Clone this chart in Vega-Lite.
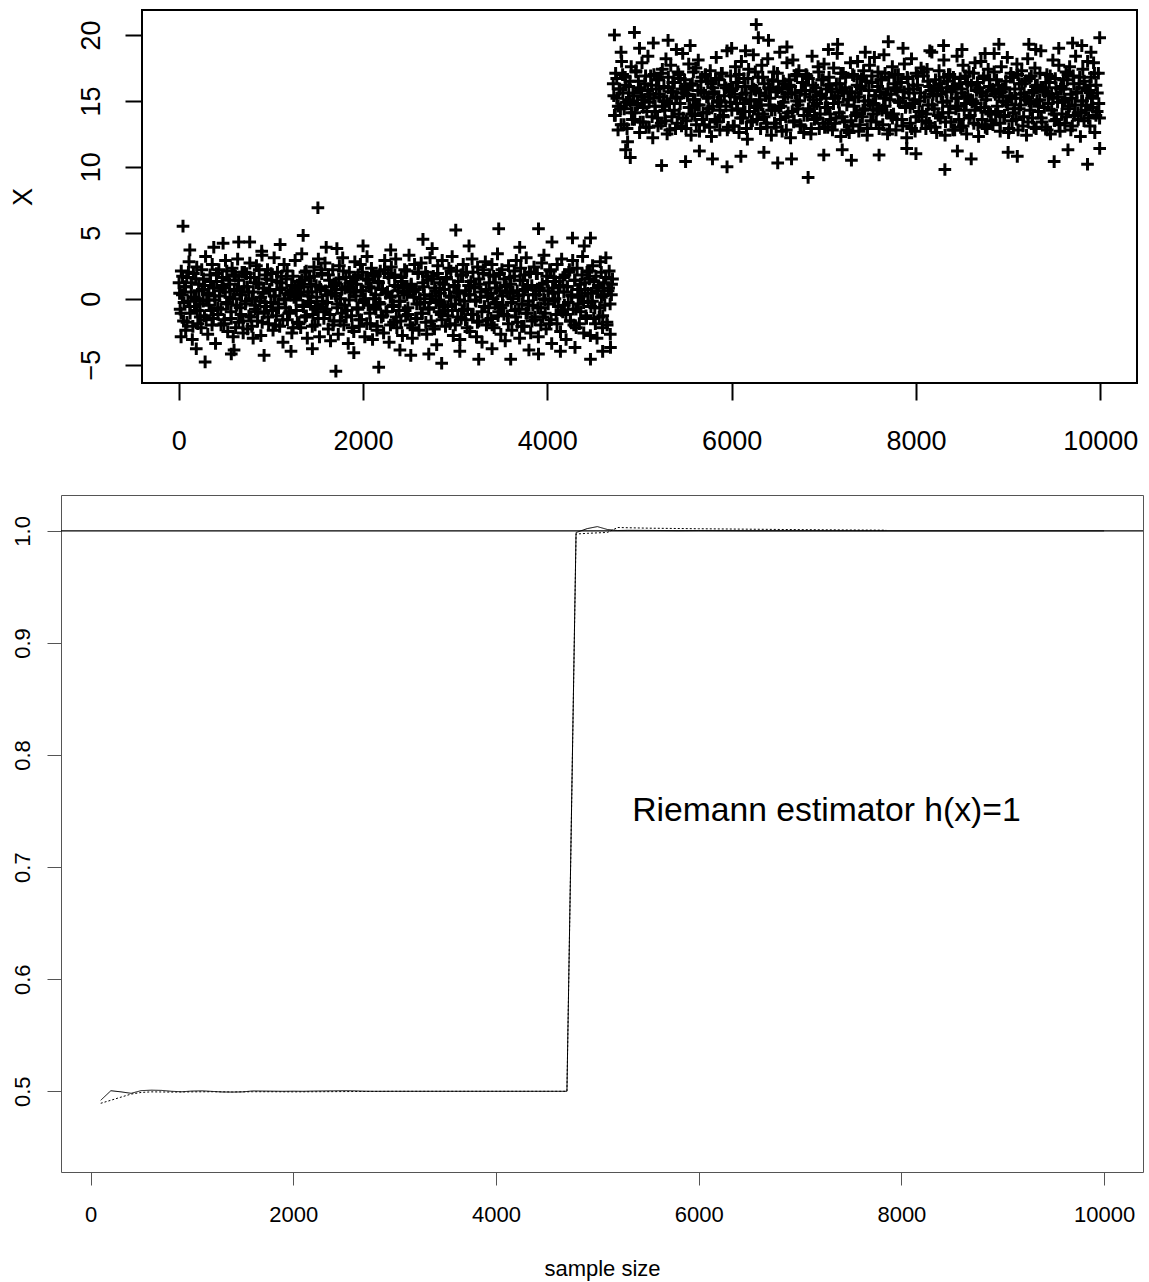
{
"$schema": "https://vega.github.io/schema/vega-lite/v6.json",
"background": "white",
"padding": {"left": 9, "top": 9, "right": 5, "bottom": 2},
"config": {"font": "Liberation Sans", "axis": {"grid": false, "labelColor": "black", "titleColor": "black", "titleFontWeight": "normal", "labelFont": "Liberation Sans", "titleFont": "Liberation Sans", "labelFlush": false, "labelOverlap": false}},
"columns": 1,
"align": "none",
"spacing": 40,
"datasets": {
"est": [
{"n":100,"v":0.4920,"s":"a"},{"n":200,"v":0.5005,"s":"a"},{"n":300,"v":0.4995,"s":"a"},{"n":400,"v":0.4982,"s":"a"},{"n":500,"v":0.5006,"s":"a"},{"n":600,"v":0.5010,"s":"a"},{"n":700,"v":0.5008,"s":"a"},{"n":800,"v":0.5000,"s":"a"},{"n":900,"v":0.4996,"s":"a"},{"n":1000,"v":0.5002,"s":"a"},{"n":1100,"v":0.5004,"s":"a"},{"n":1200,"v":0.4999,"s":"a"},{"n":1300,"v":0.4994,"s":"a"},{"n":1400,"v":0.4993,"s":"a"},{"n":1500,"v":0.4995,"s":"a"},{"n":1600,"v":0.5003,"s":"a"},{"n":1700,"v":0.5002,"s":"a"},{"n":1800,"v":0.5001,"s":"a"},{"n":1900,"v":0.5000,"s":"a"},{"n":2000,"v":0.5001,"s":"a"},{"n":2100,"v":0.5000,"s":"a"},{"n":2200,"v":0.5002,"s":"a"},{"n":2300,"v":0.5003,"s":"a"},{"n":2400,"v":0.5004,"s":"a"},{"n":2500,"v":0.5005,"s":"a"},{"n":2600,"v":0.5004,"s":"a"},{"n":2700,"v":0.5001,"s":"a"},{"n":2800,"v":0.5000,"s":"a"},{"n":3000,"v":0.5000,"s":"a"},{"n":3500,"v":0.5000,"s":"a"},{"n":4000,"v":0.5000,"s":"a"},{"n":4200,"v":0.5000,"s":"a"},{"n":4700,"v":0.5000,"s":"a"},{"n":4790,"v":0.9985,"s":"a"},{"n":4900,"v":1.0020,"s":"a"},{"n":5000,"v":1.0038,"s":"a"},{"n":5100,"v":1.0012,"s":"a"},{"n":5200,"v":1.0003,"s":"a"},{"n":5300,"v":1.0005,"s":"a"},{"n":5500,"v":1.0004,"s":"a"},{"n":5800,"v":1.0002,"s":"a"},{"n":6000,"v":1.0003,"s":"a"},{"n":6500,"v":1.0001,"s":"a"},{"n":7000,"v":1.0001,"s":"a"},{"n":8000,"v":1.0000,"s":"a"},{"n":9000,"v":1.0000,"s":"a"},{"n":10000,"v":1.0000,"s":"a"},
{"n":100,"v":0.4893,"s":"b"},{"n":200,"v":0.4920,"s":"b"},{"n":300,"v":0.4948,"s":"b"},{"n":400,"v":0.4975,"s":"b"},{"n":500,"v":0.4990,"s":"b"},{"n":600,"v":0.4995,"s":"b"},{"n":800,"v":0.4993,"s":"b"},{"n":1000,"v":0.4995,"s":"b"},{"n":1200,"v":0.4996,"s":"b"},{"n":1400,"v":0.4994,"s":"b"},{"n":1600,"v":0.4996,"s":"b"},{"n":1800,"v":0.4996,"s":"b"},{"n":2000,"v":0.4995,"s":"b"},{"n":2200,"v":0.4996,"s":"b"},{"n":2400,"v":0.4997,"s":"b"},{"n":2600,"v":0.4998,"s":"b"},{"n":2800,"v":0.4999,"s":"b"},{"n":3000,"v":0.5000,"s":"b"},{"n":3500,"v":0.5000,"s":"b"},{"n":4000,"v":0.5000,"s":"b"},{"n":4700,"v":0.5000,"s":"b"},{"n":4790,"v":0.9972,"s":"b"},{"n":4900,"v":0.9978,"s":"b"},{"n":5000,"v":0.9982,"s":"b"},{"n":5100,"v":0.9986,"s":"b"},{"n":5200,"v":1.0030,"s":"b"},{"n":5300,"v":1.0028,"s":"b"},{"n":5500,"v":1.0024,"s":"b"},{"n":6000,"v":1.0019,"s":"b"},{"n":6500,"v":1.0015,"s":"b"},{"n":7000,"v":1.0011,"s":"b"},{"n":7500,"v":1.0008,"s":"b"},{"n":7850,"v":1.0006,"s":"b"}
],
"pts": [
{"i":3,"X":1.2},{"i":15,"X":-0.8},{"i":27,"X":2.1},{"i":39,"X":0.3},{"i":51,"X":-1.7},{"i":63,"X":0.9},{"i":75,"X":-2.4},{"i":87,"X":1.6},{"i":99,"X":-0.2},{"i":111,"X":2.8},{"i":123,"X":-1.1},{"i":135,"X":0.5},{"i":147,"X":-3.1},{"i":159,"X":1.9},{"i":171,"X":-0.6},{"i":183,"X":0.0},{"i":195,"X":2.4},{"i":207,"X":-1.9},{"i":219,"X":1.1},{"i":231,"X":-0.4},
{"i":243,"X":-2.2},{"i":255,"X":0.7},{"i":267,"X":1.5},{"i":279,"X":-1.3},{"i":291,"X":3.2},{"i":303,"X":-0.1},{"i":315,"X":-2.7},{"i":327,"X":0.4},{"i":339,"X":1.8},{"i":351,"X":-0.9},{"i":363,"X":2.6},{"i":375,"X":-1.5},{"i":387,"X":0.2},{"i":399,"X":-3.4},{"i":411,"X":1.3},{"i":423,"X":-0.7},{"i":435,"X":2.2},{"i":447,"X":0.6},{"i":459,"X":-2.0},{"i":471,"X":1.0},
{"i":483,"X":0.8},{"i":495,"X":-1.6},{"i":507,"X":2.9},{"i":519,"X":-0.3},{"i":531,"X":-2.5},{"i":543,"X":1.4},{"i":555,"X":0.1},{"i":567,"X":-1.0},{"i":579,"X":2.3},{"i":591,"X":-2.9},{"i":603,"X":0.6},{"i":615,"X":1.7},{"i":627,"X":-0.5},{"i":639,"X":3.0},{"i":651,"X":-1.8},{"i":663,"X":0.3},{"i":675,"X":-1.2},{"i":687,"X":2.0},{"i":699,"X":-2.6},{"i":711,"X":0.9},
{"i":723,"X":-0.4},{"i":735,"X":1.9},{"i":747,"X":-2.3},{"i":759,"X":0.5},{"i":771,"X":2.7},{"i":783,"X":-1.4},{"i":795,"X":0.0},{"i":807,"X":-3.0},{"i":819,"X":1.6},{"i":831,"X":-0.8},{"i":843,"X":2.5},{"i":855,"X":-1.7},{"i":867,"X":1.1},{"i":879,"X":-0.2},{"i":891,"X":-2.8},{"i":903,"X":3.3},{"i":915,"X":0.4},{"i":927,"X":-1.1},{"i":939,"X":1.8},{"i":951,"X":-0.6},
{"i":963,"X":2.2},{"i":975,"X":-1.9},{"i":987,"X":0.7},{"i":999,"X":-0.3},{"i":1011,"X":1.4},{"i":1023,"X":-2.4},{"i":1035,"X":3.1},{"i":1047,"X":0.2},{"i":1059,"X":-1.3},{"i":1071,"X":2.0},{"i":1083,"X":-0.7},{"i":1095,"X":-2.1},{"i":1107,"X":1.2},{"i":1119,"X":0.8},{"i":1131,"X":-3.3},{"i":1143,"X":2.6},{"i":1155,"X":-0.1},{"i":1167,"X":1.5},{"i":1179,"X":-1.6},{"i":1191,"X":0.3},
{"i":1203,"X":-1.0},{"i":1215,"X":0.6},{"i":1227,"X":-2.6},{"i":1239,"X":1.7},{"i":1251,"X":0.1},{"i":1263,"X":2.9},{"i":1275,"X":-0.9},{"i":1287,"X":-1.8},{"i":1299,"X":0.4},{"i":1311,"X":1.3},{"i":1323,"X":-2.2},{"i":1335,"X":3.4},{"i":1347,"X":-0.5},{"i":1359,"X":0.9},{"i":1371,"X":-1.4},{"i":1383,"X":2.1},{"i":1395,"X":-3.0},{"i":1407,"X":0.2},{"i":1419,"X":1.6},{"i":1431,"X":-0.3},
{"i":1443,"X":0.5},{"i":1455,"X":-1.2},{"i":1467,"X":2.4},{"i":1479,"X":-2.0},{"i":1491,"X":1.0},{"i":1503,"X":-0.6},{"i":1515,"X":3.0},{"i":1527,"X":-2.9},{"i":1539,"X":0.7},{"i":1551,"X":1.9},{"i":1563,"X":-0.2},{"i":1575,"X":-1.5},{"i":1587,"X":2.7},{"i":1599,"X":-0.8},{"i":1611,"X":0.3},{"i":1623,"X":-2.3},{"i":1635,"X":1.4},{"i":1647,"X":-3.2},{"i":1659,"X":0.9},{"i":1671,"X":2.2},
{"i":1683,"X":-1.7},{"i":1695,"X":0.4},{"i":1707,"X":1.2},{"i":1719,"X":-0.4},{"i":1731,"X":-2.7},{"i":1743,"X":2.5},{"i":1755,"X":0.0},{"i":1767,"X":-1.1},{"i":1779,"X":3.1},{"i":1791,"X":-2.0},{"i":1803,"X":0.8},{"i":1815,"X":1.6},{"i":1827,"X":-0.9},{"i":1839,"X":-3.4},{"i":1851,"X":2.0},{"i":1863,"X":0.5},{"i":1875,"X":-1.3},{"i":1887,"X":1.1},{"i":1899,"X":-2.5},{"i":1911,"X":2.8},
{"i":1923,"X":0.2},{"i":1935,"X":-0.7},{"i":1947,"X":1.8},{"i":1959,"X":-2.1},{"i":1971,"X":2.6},{"i":1983,"X":-1.6},{"i":1995,"X":0.6},{"i":2007,"X":-0.1},{"i":2019,"X":-2.9},{"i":2031,"X":1.5},{"i":2043,"X":3.2},{"i":2055,"X":-0.5},{"i":2067,"X":0.9},{"i":2079,"X":-1.9},{"i":2091,"X":2.3},{"i":2103,"X":-3.1},{"i":2115,"X":0.0},{"i":2127,"X":1.7},{"i":2139,"X":-0.8},{"i":2151,"X":-2.4},
{"i":2163,"X":1.3},{"i":2175,"X":-0.3},{"i":2187,"X":2.1},{"i":2199,"X":-1.4},{"i":2211,"X":0.7},{"i":2223,"X":-2.6},{"i":2235,"X":2.9},{"i":2247,"X":0.4},{"i":2259,"X":-1.0},{"i":2271,"X":1.9},{"i":2283,"X":-3.3},{"i":2295,"X":0.1},{"i":2307,"X":2.4},{"i":2319,"X":-0.6},{"i":2331,"X":-1.8},{"i":2343,"X":1.0},{"i":2355,"X":3.0},{"i":2367,"X":-2.2},{"i":2379,"X":0.6},{"i":2391,"X":-0.9},
{"i":2403,"X":-0.2},{"i":2415,"X":1.6},{"i":2427,"X":-2.8},{"i":2439,"X":0.8},{"i":2451,"X":2.2},{"i":2463,"X":-1.3},{"i":2475,"X":0.3},{"i":2487,"X":-0.7},{"i":2499,"X":3.3},{"i":2511,"X":-2.0},{"i":2523,"X":1.1},{"i":2535,"X":-3.0},{"i":2547,"X":0.5},{"i":2559,"X":2.6},{"i":2571,"X":-1.5},{"i":2583,"X":-0.4},{"i":2595,"X":1.9},{"i":2607,"X":-2.4},{"i":2619,"X":0.0},{"i":2631,"X":2.7},
{"i":2643,"X":-1.1},{"i":2655,"X":0.9},{"i":2667,"X":-0.3},{"i":2679,"X":2.0},{"i":2691,"X":-2.7},{"i":2703,"X":1.4},{"i":2715,"X":-0.8},{"i":2727,"X":3.1},{"i":2739,"X":-1.7},{"i":2751,"X":0.2},{"i":2763,"X":1.7},{"i":2775,"X":-2.3},{"i":2787,"X":0.6},{"i":2799,"X":-3.5},{"i":2811,"X":2.5},{"i":2823,"X":-0.1},{"i":2835,"X":1.2},{"i":2847,"X":-1.2},{"i":2859,"X":2.9},{"i":2871,"X":-0.5},
{"i":2883,"X":0.7},{"i":2895,"X":-2.1},{"i":2907,"X":1.5},{"i":2919,"X":-0.6},{"i":2931,"X":2.3},{"i":2943,"X":-1.9},{"i":2955,"X":0.1},{"i":2967,"X":3.2},{"i":2979,"X":-2.8},{"i":2991,"X":1.0},{"i":3003,"X":-0.4},{"i":3015,"X":2.1},{"i":3027,"X":-1.4},{"i":3039,"X":0.4},{"i":3051,"X":-3.1},{"i":3063,"X":1.8},{"i":3075,"X":-0.9},{"i":3087,"X":2.6},{"i":3099,"X":-0.2},{"i":3111,"X":-1.6},
{"i":3123,"X":2.0},{"i":3135,"X":-0.8},{"i":3147,"X":0.3},{"i":3159,"X":-2.5},{"i":3171,"X":1.3},{"i":3183,"X":3.0},{"i":3195,"X":-1.2},{"i":3207,"X":0.8},{"i":3219,"X":-0.1},{"i":3231,"X":-2.9},{"i":3243,"X":2.4},{"i":3255,"X":-1.7},{"i":3267,"X":1.1},{"i":3279,"X":0.5},{"i":3291,"X":-3.3},{"i":3303,"X":1.9},{"i":3315,"X":-0.6},{"i":3327,"X":2.8},{"i":3339,"X":-2.0},{"i":3351,"X":0.2},
{"i":3363,"X":-0.7},{"i":3375,"X":1.8},{"i":3387,"X":-1.5},{"i":3399,"X":2.6},{"i":3411,"X":0.0},{"i":3423,"X":-2.2},{"i":3435,"X":1.2},{"i":3447,"X":-0.3},{"i":3459,"X":3.4},{"i":3471,"X":-1.0},{"i":3483,"X":0.6},{"i":3495,"X":-2.7},{"i":3507,"X":2.2},{"i":3519,"X":-0.5},{"i":3531,"X":1.5},{"i":3543,"X":-3.2},{"i":3555,"X":0.9},{"i":3567,"X":-1.3},{"i":3579,"X":2.5},{"i":3591,"X":0.4},
{"i":3603,"X":1.1},{"i":3615,"X":-2.4},{"i":3627,"X":0.5},{"i":3639,"X":1.7},{"i":3651,"X":-0.9},{"i":3663,"X":2.9},{"i":3675,"X":-1.8},{"i":3687,"X":0.2},{"i":3699,"X":-3.0},{"i":3711,"X":2.3},{"i":3723,"X":-0.4},{"i":3735,"X":1.4},{"i":3747,"X":-2.1},{"i":3759,"X":0.7},{"i":3771,"X":3.1},{"i":3783,"X":-1.1},{"i":3795,"X":-0.2},{"i":3807,"X":2.0},{"i":3819,"X":-2.6},{"i":3831,"X":1.0},
{"i":3843,"X":-0.5},{"i":3855,"X":2.4},{"i":3867,"X":-1.6},{"i":3879,"X":0.3},{"i":3891,"X":1.9},{"i":3903,"X":-2.9},{"i":3915,"X":0.8},{"i":3927,"X":-0.7},{"i":3939,"X":2.7},{"i":3951,"X":-1.4},{"i":3963,"X":3.3},{"i":3975,"X":-0.1},{"i":3987,"X":-2.3},{"i":3999,"X":1.3},{"i":4011,"X":0.6},{"i":4023,"X":-1.9},{"i":4035,"X":2.1},{"i":4047,"X":-3.4},{"i":4059,"X":0.4},{"i":4071,"X":1.6},
{"i":4083,"X":0.0},{"i":4095,"X":-1.2},{"i":4107,"X":2.6},{"i":4119,"X":-0.6},{"i":4131,"X":1.0},{"i":4143,"X":-2.5},{"i":4155,"X":3.0},{"i":4167,"X":-1.0},{"i":4179,"X":0.5},{"i":4191,"X":1.8},{"i":4203,"X":-3.1},{"i":4215,"X":0.9},{"i":4227,"X":-0.3},{"i":4239,"X":2.2},{"i":4251,"X":-1.7},{"i":4263,"X":0.3},{"i":4275,"X":2.9},{"i":4287,"X":-2.0},{"i":4299,"X":1.4},{"i":4311,"X":-0.8},
{"i":4323,"X":2.3},{"i":4335,"X":-0.4},{"i":4347,"X":-1.9},{"i":4359,"X":1.1},{"i":4371,"X":0.2},{"i":4383,"X":3.2},{"i":4395,"X":-2.6},{"i":4407,"X":0.7},{"i":4419,"X":-1.3},{"i":4431,"X":2.0},{"i":4443,"X":-0.2},{"i":4455,"X":1.5},{"i":4467,"X":-2.8},{"i":4479,"X":0.4},{"i":4491,"X":2.5},{"i":4503,"X":-1.5},{"i":4515,"X":-0.7},{"i":4527,"X":1.7},{"i":4539,"X":-3.0},{"i":4551,"X":0.8},
{"i":4563,"X":-1.4},{"i":4575,"X":2.8},{"i":4587,"X":0.1},{"i":4599,"X":-2.2},{"i":4611,"X":1.2},{"i":4623,"X":-0.5},{"i":4635,"X":3.1},{"i":4647,"X":-1.8},{"i":4659,"X":0.6},{"i":4671,"X":2.1},{"i":4683,"X":-2.7},{"i":4695,"X":0.3},{"i":4707,"X":1.5},
{"i":9,"X":0.4},{"i":25,"X":-1.1},{"i":41,"X":1.7},{"i":57,"X":-0.3},{"i":73,"X":0.9},{"i":89,"X":-1.8},{"i":105,"X":2.0},{"i":121,"X":-0.6},{"i":137,"X":1.2},{"i":153,"X":-2.1},{"i":169,"X":0.1},{"i":185,"X":1.5},{"i":201,"X":-0.9},{"i":217,"X":0.6},{"i":233,"X":-1.4},{"i":249,"X":2.2},{"i":265,"X":-0.2},{"i":281,"X":1.0},{"i":297,"X":-1.6},{"i":313,"X":0.3},
{"i":329,"X":-0.5},{"i":345,"X":1.3},{"i":361,"X":-2.0},{"i":377,"X":0.8},{"i":393,"X":-0.1},{"i":409,"X":1.9},{"i":425,"X":-1.2},{"i":441,"X":0.2},{"i":457,"X":-0.8},{"i":473,"X":1.6},{"i":489,"X":-1.9},{"i":505,"X":0.5},{"i":521,"X":2.1},{"i":537,"X":-0.4},{"i":553,"X":1.1},{"i":569,"X":-1.5},{"i":585,"X":0.0},{"i":601,"X":1.8},{"i":617,"X":-2.2},{"i":633,"X":0.7},
{"i":649,"X":1.4},{"i":665,"X":-0.7},{"i":681,"X":0.3},{"i":697,"X":-1.7},{"i":713,"X":2.0},{"i":729,"X":-0.2},{"i":745,"X":0.9},{"i":761,"X":-1.3},{"i":777,"X":1.6},{"i":793,"X":-2.1},{"i":809,"X":0.5},{"i":825,"X":-0.5},{"i":841,"X":1.2},{"i":857,"X":-1.0},{"i":873,"X":2.2},{"i":889,"X":0.1},{"i":905,"X":-1.8},{"i":921,"X":0.8},{"i":937,"X":-0.3},{"i":953,"X":1.5},
{"i":969,"X":-1.4},{"i":985,"X":0.6},{"i":1001,"X":1.9},{"i":1017,"X":-0.9},{"i":1033,"X":0.2},{"i":1049,"X":-2.0},{"i":1065,"X":1.3},{"i":1081,"X":-0.4},{"i":1097,"X":0.7},{"i":1113,"X":1.7},{"i":1129,"X":-1.6},{"i":1145,"X":0.0},{"i":1161,"X":-0.7},{"i":1177,"X":2.1},{"i":1193,"X":-1.1},{"i":1209,"X":0.4},{"i":1225,"X":1.0},{"i":1241,"X":-2.2},{"i":1257,"X":0.9},{"i":1273,"X":-0.1},
{"i":1289,"X":0.8},{"i":1305,"X":-1.9},{"i":1321,"X":0.3},{"i":1337,"X":1.4},{"i":1353,"X":-0.6},{"i":1369,"X":2.0},{"i":1385,"X":-1.3},{"i":1401,"X":0.5},{"i":1417,"X":-0.2},{"i":1433,"X":1.1},{"i":1449,"X":-2.1},{"i":1465,"X":1.7},{"i":1481,"X":-0.8},{"i":1497,"X":0.1},{"i":1513,"X":-1.5},{"i":1529,"X":0.9},{"i":1545,"X":2.2},{"i":1561,"X":-0.4},{"i":1577,"X":-1.0},{"i":1593,"X":0.6},
{"i":1609,"X":-0.3},{"i":1625,"X":1.8},{"i":1641,"X":-1.2},{"i":1657,"X":0.4},{"i":1673,"X":-2.0},{"i":1689,"X":1.0},{"i":1705,"X":0.2},{"i":1721,"X":-0.7},{"i":1737,"X":1.5},{"i":1753,"X":-1.7},{"i":1769,"X":0.7},{"i":1785,"X":2.1},{"i":1801,"X":-0.5},{"i":1817,"X":-1.4},{"i":1833,"X":0.9},{"i":1849,"X":-0.1},{"i":1865,"X":1.3},{"i":1881,"X":-2.2},{"i":1897,"X":0.5},{"i":1913,"X":1.6},
{"i":1929,"X":1.1},{"i":1945,"X":-0.8},{"i":1961,"X":-1.6},{"i":1977,"X":0.6},{"i":1993,"X":2.0},{"i":2009,"X":-0.3},{"i":2025,"X":0.0},{"i":2041,"X":-1.9},{"i":2057,"X":1.4},{"i":2073,"X":-1.1},{"i":2089,"X":0.8},{"i":2105,"X":1.9},{"i":2121,"X":-0.6},{"i":2137,"X":0.3},{"i":2153,"X":-2.1},{"i":2169,"X":1.2},{"i":2185,"X":-0.4},{"i":2201,"X":0.7},{"i":2217,"X":-1.3},{"i":2233,"X":2.2},
{"i":2249,"X":-1.0},{"i":2265,"X":0.5},{"i":2281,"X":1.6},{"i":2297,"X":-2.0},{"i":2313,"X":0.2},{"i":2329,"X":-0.5},{"i":2345,"X":1.8},{"i":2361,"X":-1.4},{"i":2377,"X":0.9},{"i":2393,"X":-0.2},{"i":2409,"X":-1.7},{"i":2425,"X":1.3},{"i":2441,"X":0.4},{"i":2457,"X":-0.9},{"i":2473,"X":2.1},{"i":2489,"X":-1.2},{"i":2505,"X":0.6},{"i":2521,"X":1.0},{"i":2537,"X":-2.2},{"i":2553,"X":0.1},
{"i":2569,"X":0.7},{"i":2585,"X":-1.5},{"i":2601,"X":2.0},{"i":2617,"X":-0.4},{"i":2633,"X":-1.1},{"i":2649,"X":1.2},{"i":2665,"X":0.3},{"i":2681,"X":-1.8},{"i":2697,"X":1.7},{"i":2713,"X":-0.7},{"i":2729,"X":0.0},{"i":2745,"X":1.5},{"i":2761,"X":-2.1},{"i":2777,"X":0.8},{"i":2793,"X":-0.3},{"i":2809,"X":1.9},{"i":2825,"X":-1.0},{"i":2841,"X":0.4},{"i":2857,"X":-1.6},{"i":2873,"X":1.1},
{"i":2889,"X":-0.6},{"i":2905,"X":1.6},{"i":2921,"X":-1.3},{"i":2937,"X":0.2},{"i":2953,"X":2.1},{"i":2969,"X":-0.9},{"i":2985,"X":0.9},{"i":3001,"X":-2.0},{"i":3017,"X":0.5},{"i":3033,"X":1.3},{"i":3049,"X":-0.1},{"i":3065,"X":-1.5},{"i":3081,"X":1.8},{"i":3097,"X":-0.8},{"i":3113,"X":0.6},{"i":3129,"X":-2.2},{"i":3145,"X":1.0},{"i":3161,"X":0.3},{"i":3177,"X":-1.2},{"i":3193,"X":2.0},
{"i":3209,"X":0.9},{"i":3225,"X":-0.2},{"i":3241,"X":-1.8},{"i":3257,"X":1.5},{"i":3273,"X":0.1},{"i":3289,"X":-1.0},{"i":3305,"X":2.2},{"i":3321,"X":-0.6},{"i":3337,"X":0.7},{"i":3353,"X":-1.6},{"i":3369,"X":1.2},{"i":3385,"X":0.4},{"i":3401,"X":-2.0},{"i":3417,"X":1.7},{"i":3433,"X":-0.4},{"i":3449,"X":0.8},{"i":3465,"X":-1.3},{"i":3481,"X":1.9},{"i":3497,"X":-0.7},{"i":3513,"X":0.2},
{"i":3529,"X":-1.2},{"i":3545,"X":1.0},{"i":3561,"X":0.5},{"i":3577,"X":-1.9},{"i":3593,"X":1.6},{"i":3609,"X":-0.3},{"i":3625,"X":0.0},{"i":3641,"X":2.1},{"i":3657,"X":-1.4},{"i":3673,"X":0.6},{"i":3689,"X":-0.8},{"i":3705,"X":1.4},{"i":3721,"X":-2.1},{"i":3737,"X":0.3},{"i":3753,"X":1.8},{"i":3769,"X":-1.1},{"i":3785,"X":0.9},{"i":3801,"X":-0.5},{"i":3817,"X":2.0},{"i":3833,"X":-1.7},
{"i":3849,"X":0.3},{"i":3865,"X":-1.4},{"i":3881,"X":1.9},{"i":3897,"X":-0.7},{"i":3913,"X":0.6},{"i":3929,"X":-2.0},{"i":3945,"X":1.1},{"i":3961,"X":0.0},{"i":3977,"X":-1.1},{"i":3993,"X":1.7},{"i":4009,"X":-0.4},{"i":4025,"X":2.2},{"i":4041,"X":-1.6},{"i":4057,"X":0.8},{"i":4073,"X":-0.2},{"i":4089,"X":1.3},{"i":4105,"X":-1.9},{"i":4121,"X":0.5},{"i":4137,"X":1.0},{"i":4153,"X":-0.9},
{"i":4169,"X":1.6},{"i":4185,"X":-0.5},{"i":4201,"X":-1.2},{"i":4217,"X":0.9},{"i":4233,"X":2.0},{"i":4249,"X":-1.7},{"i":4265,"X":0.2},{"i":4281,"X":-0.8},{"i":4297,"X":1.4},{"i":4313,"X":-2.2},{"i":4329,"X":0.7},{"i":4345,"X":0.1},{"i":4361,"X":-1.0},{"i":4377,"X":1.8},{"i":4393,"X":-0.3},{"i":4409,"X":1.2},{"i":4425,"X":-1.5},{"i":4441,"X":0.4},{"i":4457,"X":2.1},{"i":4473,"X":-0.6},
{"i":4489,"X":-0.2},{"i":4505,"X":1.3},{"i":4521,"X":-1.9},{"i":4537,"X":0.6},{"i":4553,"X":1.0},{"i":4569,"X":-0.7},{"i":4585,"X":2.0},{"i":4601,"X":-1.3},{"i":4617,"X":0.3},{"i":4633,"X":1.6},{"i":4649,"X":-2.0},{"i":4665,"X":0.8},{"i":4681,"X":-0.4},{"i":4697,"X":1.1},
{"i":46,"X":5.5},{"i":481,"X":4.2},{"i":650,"X":4.3},{"i":770,"X":4.3},{"i":1350,"X":4.8},{"i":1510,"X":6.9},{"i":1716,"X":3.8},{"i":3006,"X":5.2},{"i":3472,"X":5.3},{"i":3904,"X":5.3},{"i":4273,"X":4.6},{"i":4468,"X":4.6},{"i":286,"X":-4.8},{"i":1705,"X":-5.5},{"i":2170,"X":-5.2},{"i":2853,"X":-4.9},{"i":3255,"X":-4.6},{"i":3602,"X":-4.6},{"i":4468,"X":-4.6},{"i":4685,"X":-3.7},{"i":190,"X":-3.8},{"i":570,"X":-4.2},{"i":926,"X":-4.3},{"i":1218,"X":-4.0},{"i":2518,"X":-4.3},{"i":2713,"X":-4.2},{"i":3904,"X":-4.2},{"i":4142,"X":-4.0},{"i":25,"X":-2.9},
{"i":120,"X":3.7},{"i":380,"X":3.9},{"i":900,"X":3.6},{"i":1100,"X":4.1},{"i":1600,"X":3.9},{"i":2000,"X":4.0},{"i":2300,"X":3.7},{"i":2650,"X":4.5},{"i":2750,"X":3.8},{"i":3150,"X":4.0},{"i":3700,"X":3.9},{"i":4050,"X":4.3},{"i":4400,"X":4.0},{"i":600,"X":-3.9},{"i":1450,"X":-3.8},{"i":1900,"X":-4.1},{"i":2400,"X":-3.9},{"i":3050,"X":-4.0},{"i":3400,"X":-3.8},{"i":3800,"X":-3.9},{"i":4300,"X":-3.7},{"i":4600,"X":-4.0},
{"i":4715,"X":16.3},{"i":4728,"X":13.9},{"i":4741,"X":17.1},{"i":4754,"X":15.2},{"i":4767,"X":12.8},{"i":4780,"X":15.9},{"i":4793,"X":14.4},{"i":4806,"X":18.0},{"i":4819,"X":15.6},{"i":4832,"X":13.2},{"i":4845,"X":16.8},{"i":4858,"X":14.9},{"i":4871,"X":11.9},{"i":4884,"X":16.1},{"i":4897,"X":15.0},{"i":4910,"X":17.6},{"i":4923,"X":13.6},{"i":4936,"X":15.4},{"i":4949,"X":14.1},{"i":4962,"X":17.3},
{"i":4975,"X":14.7},{"i":4988,"X":16.5},{"i":5001,"X":12.6},{"i":5014,"X":15.8},{"i":5027,"X":17.9},{"i":5040,"X":13.4},{"i":5053,"X":15.1},{"i":5066,"X":16.9},{"i":5079,"X":14.2},{"i":5092,"X":18.4},{"i":5105,"X":13.0},{"i":5118,"X":15.5},{"i":5131,"X":16.2},{"i":5144,"X":12.2},{"i":5157,"X":17.0},{"i":5170,"X":14.6},{"i":5183,"X":15.9},{"i":5196,"X":13.7},{"i":5209,"X":16.6},{"i":5222,"X":15.3},
{"i":5235,"X":13.3},{"i":5248,"X":17.4},{"i":5261,"X":15.0},{"i":5274,"X":14.3},{"i":5287,"X":18.2},{"i":5300,"X":12.5},{"i":5313,"X":16.0},{"i":5326,"X":14.8},{"i":5339,"X":17.7},{"i":5352,"X":13.8},{"i":5365,"X":15.7},{"i":5378,"X":16.4},{"i":5391,"X":12.9},{"i":5404,"X":15.2},{"i":5417,"X":17.2},{"i":5430,"X":14.0},{"i":5443,"X":16.7},{"i":5456,"X":13.1},{"i":5469,"X":18.6},{"i":5482,"X":15.6},
{"i":5495,"X":16.1},{"i":5508,"X":13.5},{"i":5521,"X":15.4},{"i":5534,"X":17.8},{"i":5547,"X":14.5},{"i":5560,"X":12.4},{"i":5573,"X":16.3},{"i":5586,"X":15.1},{"i":5599,"X":13.9},{"i":5612,"X":17.5},{"i":5625,"X":14.7},{"i":5638,"X":18.1},{"i":5651,"X":12.7},{"i":5664,"X":15.8},{"i":5677,"X":16.8},{"i":5690,"X":14.1},{"i":5703,"X":13.2},{"i":5716,"X":17.0},{"i":5729,"X":15.3},{"i":5742,"X":16.5},
{"i":5755,"X":14.4},{"i":5768,"X":17.3},{"i":5781,"X":12.3},{"i":5794,"X":16.0},{"i":5807,"X":15.5},{"i":5820,"X":13.6},{"i":5833,"X":18.3},{"i":5846,"X":14.9},{"i":5859,"X":16.6},{"i":5872,"X":12.8},{"i":5885,"X":15.0},{"i":5898,"X":17.1},{"i":5911,"X":13.8},{"i":5924,"X":16.2},{"i":5937,"X":14.6},{"i":5950,"X":18.8},{"i":5963,"X":13.0},{"i":5976,"X":15.7},{"i":5989,"X":16.9},{"i":6002,"X":14.3},
{"i":6015,"X":15.9},{"i":6028,"X":13.1},{"i":6041,"X":17.6},{"i":6054,"X":14.8},{"i":6067,"X":16.4},{"i":6080,"X":12.6},{"i":6093,"X":15.2},{"i":6106,"X":18.0},{"i":6119,"X":13.7},{"i":6132,"X":16.7},{"i":6145,"X":14.2},{"i":6158,"X":15.6},{"i":6171,"X":12.1},{"i":6184,"X":17.4},{"i":6197,"X":15.0},{"i":6210,"X":13.4},{"i":6223,"X":16.1},{"i":6236,"X":18.5},{"i":6249,"X":14.5},{"i":6262,"X":15.8},
{"i":6275,"X":13.6},{"i":6288,"X":16.8},{"i":6301,"X":15.1},{"i":6314,"X":12.9},{"i":6327,"X":17.7},{"i":6340,"X":14.0},{"i":6353,"X":16.3},{"i":6366,"X":15.4},{"i":6379,"X":13.3},{"i":6392,"X":18.2},{"i":6405,"X":14.7},{"i":6418,"X":15.9},{"i":6431,"X":12.4},{"i":6444,"X":16.6},{"i":6457,"X":17.2},{"i":6470,"X":14.3},{"i":6483,"X":13.0},{"i":6496,"X":15.7},{"i":6509,"X":16.0},{"i":6522,"X":18.7},
{"i":6535,"X":14.6},{"i":6548,"X":12.7},{"i":6561,"X":16.5},{"i":6574,"X":15.3},{"i":6587,"X":13.8},{"i":6600,"X":17.9},{"i":6613,"X":14.1},{"i":6626,"X":16.2},{"i":6639,"X":12.2},{"i":6652,"X":15.6},{"i":6665,"X":18.1},{"i":6678,"X":13.5},{"i":6691,"X":16.9},{"i":6704,"X":15.0},{"i":6717,"X":14.4},{"i":6730,"X":17.3},{"i":6743,"X":13.2},{"i":6756,"X":15.8},{"i":6769,"X":16.4},{"i":6782,"X":12.6},
{"i":6795,"X":15.5},{"i":6808,"X":17.0},{"i":6821,"X":13.9},{"i":6834,"X":16.7},{"i":6847,"X":14.2},{"i":6860,"X":12.5},{"i":6873,"X":18.4},{"i":6886,"X":15.1},{"i":6899,"X":13.6},{"i":6912,"X":16.0},{"i":6925,"X":14.8},{"i":6938,"X":17.6},{"i":6951,"X":12.9},{"i":6964,"X":15.4},{"i":6977,"X":16.6},{"i":6990,"X":13.3},{"i":7003,"X":17.8},{"i":7016,"X":14.5},{"i":7029,"X":15.9},{"i":7042,"X":13.0},
{"i":7055,"X":16.2},{"i":7068,"X":14.0},{"i":7081,"X":15.7},{"i":7094,"X":12.8},{"i":7107,"X":17.5},{"i":7120,"X":15.2},{"i":7133,"X":13.7},{"i":7146,"X":18.6},{"i":7159,"X":14.9},{"i":7172,"X":16.3},{"i":7185,"X":12.3},{"i":7198,"X":15.8},{"i":7211,"X":17.1},{"i":7224,"X":13.4},{"i":7237,"X":16.8},{"i":7250,"X":14.7},{"i":7263,"X":15.1},{"i":7276,"X":12.6},{"i":7289,"X":17.9},{"i":7302,"X":15.6},
{"i":7315,"X":13.1},{"i":7328,"X":16.9},{"i":7341,"X":15.3},{"i":7354,"X":14.1},{"i":7367,"X":18.0},{"i":7380,"X":12.7},{"i":7393,"X":16.1},{"i":7406,"X":15.9},{"i":7419,"X":13.8},{"i":7432,"X":17.3},{"i":7445,"X":14.4},{"i":7458,"X":16.5},{"i":7471,"X":12.4},{"i":7484,"X":15.0},{"i":7497,"X":17.7},{"i":7510,"X":13.5},{"i":7523,"X":16.4},{"i":7536,"X":14.8},{"i":7549,"X":18.3},{"i":7562,"X":15.4},
{"i":7575,"X":14.3},{"i":7588,"X":17.2},{"i":7601,"X":12.9},{"i":7614,"X":15.7},{"i":7627,"X":16.6},{"i":7640,"X":13.2},{"i":7653,"X":18.5},{"i":7666,"X":14.6},{"i":7679,"X":15.5},{"i":7692,"X":12.5},{"i":7705,"X":16.8},{"i":7718,"X":15.1},{"i":7731,"X":13.9},{"i":7744,"X":17.6},{"i":7757,"X":14.0},{"i":7770,"X":16.0},{"i":7783,"X":12.8},{"i":7796,"X":15.8},{"i":7809,"X":17.0},{"i":7822,"X":14.9},
{"i":7835,"X":16.4},{"i":7848,"X":13.6},{"i":7861,"X":15.2},{"i":7874,"X":17.8},{"i":7887,"X":14.5},{"i":7900,"X":12.2},{"i":7913,"X":16.7},{"i":7926,"X":15.6},{"i":7939,"X":13.3},{"i":7952,"X":18.2},{"i":7965,"X":14.8},{"i":7978,"X":15.9},{"i":7991,"X":12.7},{"i":8004,"X":17.1},{"i":8017,"X":16.2},{"i":8030,"X":13.8},{"i":8043,"X":15.0},{"i":8056,"X":17.5},{"i":8069,"X":14.2},{"i":8082,"X":16.9},
{"i":8095,"X":15.3},{"i":8108,"X":12.9},{"i":8121,"X":17.4},{"i":8134,"X":14.7},{"i":8147,"X":16.1},{"i":8160,"X":13.1},{"i":8173,"X":18.7},{"i":8186,"X":15.5},{"i":8199,"X":14.4},{"i":8212,"X":16.6},{"i":8225,"X":12.6},{"i":8238,"X":15.8},{"i":8251,"X":17.3},{"i":8264,"X":13.7},{"i":8277,"X":16.0},{"i":8290,"X":14.9},{"i":8303,"X":18.1},{"i":8316,"X":12.4},{"i":8329,"X":15.7},{"i":8342,"X":16.5},
{"i":8355,"X":14.1},{"i":8368,"X":17.0},{"i":8381,"X":13.4},{"i":8394,"X":15.9},{"i":8407,"X":16.8},{"i":8420,"X":12.8},{"i":8433,"X":15.2},{"i":8446,"X":18.4},{"i":8459,"X":14.6},{"i":8472,"X":16.3},{"i":8485,"X":13.0},{"i":8498,"X":15.6},{"i":8511,"X":17.7},{"i":8524,"X":14.3},{"i":8537,"X":16.9},{"i":8550,"X":12.5},{"i":8563,"X":15.4},{"i":8576,"X":17.2},{"i":8589,"X":13.9},{"i":8602,"X":16.2},
{"i":8615,"X":15.0},{"i":8628,"X":13.3},{"i":8641,"X":17.9},{"i":8654,"X":14.8},{"i":8667,"X":16.4},{"i":8680,"X":12.3},{"i":8693,"X":15.7},{"i":8706,"X":18.0},{"i":8719,"X":13.6},{"i":8732,"X":16.7},{"i":8745,"X":14.5},{"i":8758,"X":15.1},{"i":8771,"X":12.9},{"i":8784,"X":17.4},{"i":8797,"X":16.1},{"i":8810,"X":14.0},{"i":8823,"X":15.8},{"i":8836,"X":13.2},{"i":8849,"X":18.6},{"i":8862,"X":15.5},
{"i":8875,"X":16.6},{"i":8888,"X":14.2},{"i":8901,"X":15.3},{"i":8914,"X":12.7},{"i":8927,"X":17.6},{"i":8940,"X":15.9},{"i":8953,"X":13.8},{"i":8966,"X":16.0},{"i":8979,"X":14.9},{"i":8992,"X":18.3},{"i":9005,"X":12.6},{"i":9018,"X":15.4},{"i":9031,"X":17.1},{"i":9044,"X":13.5},{"i":9057,"X":16.8},{"i":9070,"X":14.4},{"i":9083,"X":15.2},{"i":9096,"X":17.8},{"i":9109,"X":12.8},{"i":9122,"X":16.3},
{"i":9135,"X":14.7},{"i":9148,"X":17.3},{"i":9161,"X":13.1},{"i":9174,"X":15.6},{"i":9187,"X":16.5},{"i":9200,"X":12.4},{"i":9213,"X":18.2},{"i":9226,"X":15.0},{"i":9239,"X":14.3},{"i":9252,"X":16.9},{"i":9265,"X":13.7},{"i":9278,"X":15.8},{"i":9291,"X":17.5},{"i":9304,"X":12.9},{"i":9317,"X":16.2},{"i":9330,"X":14.6},{"i":9343,"X":15.1},{"i":9356,"X":18.8},{"i":9369,"X":13.4},{"i":9382,"X":16.0},
{"i":9395,"X":15.7},{"i":9408,"X":13.0},{"i":9421,"X":17.0},{"i":9434,"X":14.8},{"i":9447,"X":16.4},{"i":9460,"X":12.5},{"i":9473,"X":15.5},{"i":9486,"X":18.1},{"i":9499,"X":14.0},{"i":9512,"X":16.7},{"i":9525,"X":13.6},{"i":9538,"X":15.3},{"i":9551,"X":17.7},{"i":9564,"X":12.7},{"i":9577,"X":16.1},{"i":9590,"X":14.9},{"i":9603,"X":15.9},{"i":9616,"X":13.3},{"i":9629,"X":17.2},{"i":9642,"X":16.6},
{"i":9655,"X":14.4},{"i":9668,"X":17.6},{"i":9681,"X":12.8},{"i":9694,"X":15.2},{"i":9707,"X":16.9},{"i":9720,"X":13.9},{"i":9733,"X":18.4},{"i":9746,"X":15.6},{"i":9759,"X":14.1},{"i":9772,"X":16.3},{"i":9785,"X":12.3},{"i":9798,"X":15.0},{"i":9811,"X":17.4},{"i":9824,"X":13.5},{"i":9837,"X":16.0},{"i":9850,"X":14.7},{"i":9863,"X":18.0},{"i":9876,"X":15.8},{"i":9889,"X":13.1},{"i":9902,"X":16.8},
{"i":9915,"X":15.4},{"i":9928,"X":17.9},{"i":9941,"X":12.6},{"i":9954,"X":16.2},{"i":9967,"X":14.2},{"i":9980,"X":17.1},{"i":9993,"X":13.7},
{"i":4721,"X":15.4},{"i":4737,"X":13.9},{"i":4753,"X":16.7},{"i":4769,"X":14.6},{"i":4785,"X":15.9},{"i":4801,"X":13.2},{"i":4817,"X":17.0},{"i":4833,"X":14.4},{"i":4849,"X":16.2},{"i":4865,"X":12.9},{"i":4881,"X":15.1},{"i":4897,"X":16.5},{"i":4913,"X":14.1},{"i":4929,"X":15.6},{"i":4945,"X":13.6},{"i":4961,"X":17.2},{"i":4977,"X":14.8},{"i":4993,"X":16.0},{"i":5009,"X":13.4},{"i":5025,"X":15.3},
{"i":5041,"X":14.5},{"i":5057,"X":16.3},{"i":5073,"X":13.0},{"i":5089,"X":15.8},{"i":5105,"X":14.9},{"i":5121,"X":16.9},{"i":5137,"X":13.8},{"i":5153,"X":15.2},{"i":5169,"X":14.2},{"i":5185,"X":16.6},{"i":5201,"X":13.1},{"i":5217,"X":15.5},{"i":5233,"X":17.1},{"i":5249,"X":14.6},{"i":5265,"X":16.1},{"i":5281,"X":13.5},{"i":5297,"X":15.0},{"i":5313,"X":16.8},{"i":5329,"X":12.8},{"i":5345,"X":15.7},
{"i":5361,"X":16.4},{"i":5377,"X":14.3},{"i":5393,"X":15.3},{"i":5409,"X":13.3},{"i":5425,"X":17.0},{"i":5441,"X":14.8},{"i":5457,"X":15.9},{"i":5473,"X":13.7},{"i":5489,"X":16.6},{"i":5505,"X":12.9},{"i":5521,"X":15.5},{"i":5537,"X":14.5},{"i":5553,"X":16.2},{"i":5569,"X":14.0},{"i":5585,"X":17.2},{"i":5601,"X":15.1},{"i":5617,"X":13.2},{"i":5633,"X":15.8},{"i":5649,"X":14.7},{"i":5665,"X":16.5},
{"i":5681,"X":13.6},{"i":5697,"X":15.6},{"i":5713,"X":16.9},{"i":5729,"X":14.1},{"i":5745,"X":15.2},{"i":5761,"X":13.0},{"i":5777,"X":16.3},{"i":5793,"X":14.6},{"i":5809,"X":15.7},{"i":5825,"X":16.7},{"i":5841,"X":13.4},{"i":5857,"X":15.0},{"i":5873,"X":14.3},{"i":5889,"X":17.1},{"i":5905,"X":13.9},{"i":5921,"X":15.4},{"i":5937,"X":16.0},{"i":5953,"X":12.8},{"i":5969,"X":15.9},{"i":5985,"X":14.9},
{"i":6001,"X":15.8},{"i":6017,"X":13.1},{"i":6033,"X":15.3},{"i":6049,"X":16.4},{"i":6065,"X":14.4},{"i":6081,"X":17.0},{"i":6097,"X":13.7},{"i":6113,"X":15.5},{"i":6129,"X":14.8},{"i":6145,"X":16.1},{"i":6161,"X":12.9},{"i":6177,"X":16.7},{"i":6193,"X":14.2},{"i":6209,"X":15.1},{"i":6225,"X":13.5},{"i":6241,"X":15.9},{"i":6257,"X":17.2},{"i":6273,"X":14.6},{"i":6289,"X":14.0},{"i":6305,"X":15.6},
{"i":6321,"X":14.7},{"i":6337,"X":16.8},{"i":6353,"X":13.8},{"i":6369,"X":15.4},{"i":6385,"X":13.0},{"i":6401,"X":16.0},{"i":6417,"X":15.2},{"i":6433,"X":14.3},{"i":6449,"X":16.5},{"i":6465,"X":13.3},{"i":6481,"X":15.7},{"i":6497,"X":17.1},{"i":6513,"X":14.5},{"i":6529,"X":13.6},{"i":6545,"X":15.9},{"i":6561,"X":14.9},{"i":6577,"X":16.3},{"i":6593,"X":12.8},{"i":6609,"X":15.5},{"i":6625,"X":16.6},
{"i":6641,"X":16.1},{"i":6657,"X":14.2},{"i":6673,"X":13.4},{"i":6689,"X":15.6},{"i":6705,"X":17.0},{"i":6721,"X":14.7},{"i":6737,"X":15.0},{"i":6753,"X":13.1},{"i":6769,"X":16.4},{"i":6785,"X":13.9},{"i":6801,"X":15.8},{"i":6817,"X":16.9},{"i":6833,"X":14.4},{"i":6849,"X":15.3},{"i":6865,"X":12.9},{"i":6881,"X":16.2},{"i":6897,"X":14.6},{"i":6913,"X":15.7},{"i":6929,"X":13.7},{"i":6945,"X":17.2},
{"i":6961,"X":14.0},{"i":6977,"X":15.5},{"i":6993,"X":16.6},{"i":7009,"X":13.0},{"i":7025,"X":15.2},{"i":7041,"X":14.5},{"i":7057,"X":16.8},{"i":7073,"X":13.6},{"i":7089,"X":15.9},{"i":7105,"X":14.8},{"i":7121,"X":13.3},{"i":7137,"X":16.3},{"i":7153,"X":15.4},{"i":7169,"X":14.1},{"i":7185,"X":17.1},{"i":7201,"X":13.8},{"i":7217,"X":15.6},{"i":7233,"X":16.0},{"i":7249,"X":12.8},{"i":7265,"X":15.1},
{"i":7281,"X":15.7},{"i":7297,"X":13.5},{"i":7313,"X":17.0},{"i":7329,"X":14.6},{"i":7345,"X":13.9},{"i":7361,"X":16.2},{"i":7377,"X":15.3},{"i":7393,"X":13.2},{"i":7409,"X":16.7},{"i":7425,"X":14.3},{"i":7441,"X":15.0},{"i":7457,"X":16.5},{"i":7473,"X":12.9},{"i":7489,"X":15.8},{"i":7505,"X":14.7},{"i":7521,"X":16.9},{"i":7537,"X":14.0},{"i":7553,"X":15.4},{"i":7569,"X":13.4},{"i":7585,"X":16.1},
{"i":7601,"X":14.4},{"i":7617,"X":16.6},{"i":7633,"X":14.3},{"i":7649,"X":15.2},{"i":7665,"X":17.1},{"i":7681,"X":14.1},{"i":7697,"X":15.9},{"i":7713,"X":12.8},{"i":7729,"X":15.5},{"i":7745,"X":13.7},{"i":7761,"X":16.3},{"i":7777,"X":17.0},{"i":7793,"X":13.6},{"i":7809,"X":15.0},{"i":7825,"X":14.9},{"i":7841,"X":16.4},{"i":7857,"X":13.1},{"i":7873,"X":15.7},{"i":7889,"X":14.6},{"i":7905,"X":16.8},
{"i":7921,"X":15.9},{"i":7937,"X":14.5},{"i":7953,"X":12.9},{"i":7969,"X":16.2},{"i":7985,"X":15.1},{"i":8001,"X":13.8},{"i":8017,"X":16.9},{"i":8033,"X":14.2},{"i":8049,"X":15.6},{"i":8065,"X":13.5},{"i":8081,"X":17.2},{"i":8097,"X":15.3},{"i":8113,"X":14.0},{"i":8129,"X":16.5},{"i":8145,"X":13.3},{"i":8161,"X":15.8},{"i":8177,"X":14.7},{"i":8193,"X":16.0},{"i":8209,"X":13.0},{"i":8225,"X":15.4},
{"i":8241,"X":13.9},{"i":8257,"X":16.3},{"i":8273,"X":15.5},{"i":8289,"X":14.1},{"i":8305,"X":16.8},{"i":8321,"X":13.4},{"i":8337,"X":15.0},{"i":8353,"X":17.0},{"i":8369,"X":14.6},{"i":8385,"X":15.7},{"i":8401,"X":12.8},{"i":8417,"X":16.1},{"i":8433,"X":14.4},{"i":8449,"X":15.2},{"i":8465,"X":13.6},{"i":8481,"X":16.7},{"i":8497,"X":15.9},{"i":8513,"X":13.1},{"i":8529,"X":15.3},{"i":8545,"X":14.8},
{"i":8561,"X":16.4},{"i":8577,"X":13.7},{"i":8593,"X":15.1},{"i":8609,"X":14.9},{"i":8625,"X":17.1},{"i":8641,"X":14.3},{"i":8657,"X":15.8},{"i":8673,"X":13.2},{"i":8689,"X":16.0},{"i":8705,"X":14.5},{"i":8721,"X":15.6},{"i":8737,"X":16.9},{"i":8753,"X":13.0},{"i":8769,"X":15.4},{"i":8785,"X":14.2},{"i":8801,"X":16.6},{"i":8817,"X":13.5},{"i":8833,"X":15.9},{"i":8849,"X":17.2},{"i":8865,"X":14.0},
{"i":8881,"X":14.6},{"i":8897,"X":16.2},{"i":8913,"X":13.3},{"i":8929,"X":15.7},{"i":8945,"X":15.0},{"i":8961,"X":13.9},{"i":8977,"X":16.5},{"i":8993,"X":14.7},{"i":9009,"X":12.9},{"i":9025,"X":16.8},{"i":9041,"X":15.2},{"i":9057,"X":14.1},{"i":9073,"X":15.9},{"i":9089,"X":13.6},{"i":9105,"X":17.0},{"i":9121,"X":14.4},{"i":9137,"X":15.5},{"i":9153,"X":16.3},{"i":9169,"X":13.8},{"i":9185,"X":15.1},
{"i":9201,"X":15.3},{"i":9217,"X":13.4},{"i":9233,"X":16.7},{"i":9249,"X":14.8},{"i":9265,"X":15.6},{"i":9281,"X":13.0},{"i":9297,"X":16.1},{"i":9313,"X":15.0},{"i":9329,"X":14.2},{"i":9345,"X":17.1},{"i":9361,"X":13.7},{"i":9377,"X":15.8},{"i":9393,"X":14.5},{"i":9409,"X":16.4},{"i":9425,"X":12.8},{"i":9441,"X":15.4},{"i":9457,"X":16.9},{"i":9473,"X":14.3},{"i":9489,"X":15.2},{"i":9505,"X":13.5},
{"i":9521,"X":16.0},{"i":9537,"X":14.9},{"i":9553,"X":13.2},{"i":9569,"X":15.9},{"i":9585,"X":14.0},{"i":9601,"X":16.6},{"i":9617,"X":15.1},{"i":9633,"X":13.8},{"i":9649,"X":17.0},{"i":9665,"X":14.6},{"i":9681,"X":15.5},{"i":9697,"X":13.1},{"i":9713,"X":16.3},{"i":9729,"X":14.7},{"i":9745,"X":15.7},{"i":9761,"X":13.6},{"i":9777,"X":16.8},{"i":9793,"X":14.1},{"i":9809,"X":15.0},{"i":9825,"X":16.5},
{"i":9841,"X":14.3},{"i":9857,"X":15.8},{"i":9873,"X":13.7},{"i":9889,"X":16.2},{"i":9905,"X":15.2},{"i":9921,"X":14.5},{"i":9937,"X":17.1},{"i":9953,"X":13.9},{"i":9969,"X":15.6},{"i":9985,"X":14.8},
{"i":4728,"X":20.0},{"i":4945,"X":20.2},{"i":5150,"X":19.4},{"i":5310,"X":19.6},{"i":6267,"X":20.8},{"i":6290,"X":19.8},{"i":9225,"X":19.3},{"i":9994,"X":19.8},{"i":5550,"X":19.2},{"i":6000,"X":19.0},{"i":6600,"X":19.1},{"i":7150,"X":19.3},{"i":7700,"X":19.5},{"i":7860,"X":19.0},{"i":8300,"X":19.2},{"i":8500,"X":18.9},{"i":8900,"X":19.3},{"i":9550,"X":19.0},{"i":9700,"X":19.4},{"i":9800,"X":19.2},{"i":6400,"X":19.6},{"i":5000,"X":19.0},
{"i":6830,"X":9.2},{"i":8314,"X":9.8},{"i":9862,"X":10.2},{"i":5240,"X":10.1},{"i":5792,"X":10.6},{"i":9994,"X":11.4},{"i":4900,"X":10.7},{"i":5500,"X":10.4},{"i":6100,"X":10.8},{"i":6500,"X":10.3},{"i":7000,"X":10.9},{"i":7300,"X":10.5},{"i":7600,"X":10.9},{"i":8000,"X":11.0},{"i":8600,"X":10.6},{"i":9100,"X":10.8},{"i":9500,"X":10.4},{"i":5950,"X":10.0},{"i":6650,"X":10.6},
{"i":4800,"X":18.7},{"i":5400,"X":18.9},{"i":6150,"X":18.8},{"i":7050,"X":18.9},{"i":7450,"X":18.7},{"i":8150,"X":18.8},{"i":8750,"X":18.6},{"i":9300,"X":18.9},{"i":9900,"X":18.7},{"i":4850,"X":11.3},{"i":5650,"X":11.2},{"i":6350,"X":11.1},{"i":7200,"X":11.3},{"i":7900,"X":11.4},{"i":8450,"X":11.2},{"i":9000,"X":11.1},{"i":9650,"X":11.3}
]
},
"concat": [
{
"width": 1076, "height": 373,
"view": {"stroke": null},
"layer": [
{"data": {"values": [{}]}, "mark": {"type": "rect", "fill": null, "stroke": "black", "strokeWidth": 2}, "encoding": {"x": {"datum": -399, "type": "quantitative"}, "x2": {"datum": 10399}, "y": {"datum": -6.4, "type": "quantitative"}, "y2": {"datum": 21.9}}},
{"data": {"name": "pts"},
"mark": {"type": "point", "shape": "M-1,0L1,0M0,-1L0,1", "filled": false, "stroke": "black", "strokeWidth": 3, "size": 160, "opacity": 1},
"encoding": {
"x": {"field": "i", "type": "quantitative", "scale": {"domain": [-399, 10399], "range": [81, 1076], "nice": false, "zero": false}, "axis": {"values": [0, 2000, 4000, 6000, 8000, 10000], "format": "d", "title": null, "domain": false, "tickSize": 17, "tickWidth": 2, "tickColor": "black", "labelFontSize": 27, "labelPadding": 28}},
"y": {"field": "X", "type": "quantitative", "scale": {"domain": [-6.4, 21.9], "nice": false, "zero": false}, "axis": {"values": [-5, 0, 5, 10, 15, 20], "offset": -81, "title": "X", "titleFontSize": 27, "titlePadding": 40, "domain": false, "tickSize": 17, "tickWidth": 2, "tickColor": "black", "labelFontSize": 27, "labelAngle": 270, "labelAlign": "center", "labelBaseline": "bottom", "labelPadding": 20}}
}}
]
},
{
"width": 1082, "height": 677,
"view": {"stroke": "#555555", "strokeWidth": 1},
"layer": [
{"data": {"values": [{}]}, "mark": {"type": "rule", "color": "black", "strokeWidth": 1.3}, "encoding": {"y": {"datum": 1, "type": "quantitative"}}},
{"data": {"name": "est"}, "mark": {"type": "line", "color": "black", "strokeWidth": 1},
 "encoding": {
  "x": {"field": "n", "type": "quantitative", "scale": {"domain": [-292, 10384], "nice": false, "zero": false}, "axis": {"values": [0, 2000, 4000, 6000, 8000, 10000], "format": "d", "title": "sample size", "titleFontSize": 22, "titlePadding": 33, "domain": false, "tickSize": 13, "tickColor": "#555555", "labelFontSize": 22, "labelPadding": 19}},
  "y": {"field": "v", "type": "quantitative", "scale": {"domain": [0.428, 1.032], "nice": false, "zero": false}, "axis": {"values": [0.5, 0.6, 0.7, 0.8, 0.9, 1.0], "format": ".1f", "title": null, "domain": false, "tickSize": 14, "tickColor": "#555555", "labelFontSize": 22, "labelAngle": 270, "labelAlign": "center", "labelBaseline": "bottom", "labelPadding": 13}},
  "strokeDash": {"field": "s", "type": "nominal", "scale": {"domain": ["a", "b"], "range": [[1, 0], [2, 2]]}, "legend": null}
 }},
{"data": {"values": [{}]}, "mark": {"type": "text", "fontSize": 33.7, "align": "center", "baseline": "middle", "color": "black"}, "encoding": {"x": {"datum": 7260, "type": "quantitative"}, "y": {"datum": 0.75, "type": "quantitative"}, "text": {"value": "Riemann estimator h(x)=1"}}}
]
}
]
}
